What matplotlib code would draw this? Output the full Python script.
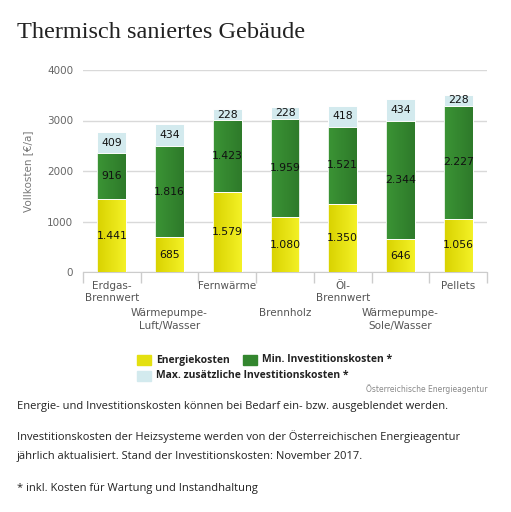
import matplotlib
matplotlib.use("Agg")
import matplotlib.pyplot as plt
import numpy as np
from matplotlib.patches import Rectangle
from matplotlib.colors import LinearSegmentedColormap

categories = ["Erdgas-\nBrennwert", "Wärmepumpe-\nLuft/Wasser", "Fernwärme", "Brennholz",
              "Öl-\nBrennwert", "Wärmepumpe-\nSole/Wasser", "Pellets"]
energiekosten = [1441, 685, 1579, 1080, 1350, 646, 1056]
min_invest = [916, 1816, 1423, 1959, 1521, 2344, 2227]
max_invest = [409, 434, 228, 228, 418, 434, 228]
series_names = ["Energiekosten", "Min. Investitionskosten *", "Max. zusätzliche Investitionskosten *"]
yticks = [0, 1000, 2000, 3000, 4000]

c_yellow = ("#d8d200", "#f4f126")
c_green = ("#3b9435", "#2e7a2a")
c_blue = ("#d3eaee", "#d3eaee")
legend_cols = ["#e4e010", "#33862e", "#d3eaee"]

def fmt(v):
    return "{:,}".format(v).replace(",", ".")

def grad_bars(ax, bars, cols):
    cmap = LinearSegmentedColormap.from_list("g", list(cols))
    grad = np.linspace(0, 1, 64).reshape(1, -1)
    for b in bars:
        x0, y0 = b.get_x(), b.get_y()
        im = ax.imshow(grad, cmap=cmap, extent=[x0, x0 + b.get_width(), y0, y0 + b.get_height()],
                       aspect="auto", zorder=3, interpolation="bilinear")
        im.set_clip_path(b)
        b.set_facecolor("none")

fig = plt.figure(figsize=(5.11, 5.12), dpi=100)
fig.patch.set_facecolor("white")

fig.text(17 / 511, 1 - 33 / 512, "Thermisch saniertes Gebäude", family="Liberation Serif",
         fontsize=17.5, color="#222222", va="center", ha="left")

ax = fig.add_axes([83 / 511, 1 - 272 / 512, 404 / 511, 202 / 512])
x = np.arange(len(categories))
w = 0.5
e = np.array(energiekosten)
m = np.array(min_invest)
mx = np.array(max_invest)
b1 = ax.bar(x, e, w, color=c_yellow[1], edgecolor="white", linewidth=0.6, zorder=3)
b2 = ax.bar(x, m, w, bottom=e, color=c_green[1], edgecolor="white", linewidth=0.6, zorder=3)
b3 = ax.bar(x, mx, w, bottom=e + m, color=c_blue[1], edgecolor="white", linewidth=0.6, zorder=3)
grad_bars(ax, b1, c_yellow)
grad_bars(ax, b2, c_green)
for bars in (b1, b2, b3):
    for b in bars:
        ax.add_patch(Rectangle((b.get_x(), b.get_y()), b.get_width(), b.get_height(),
                               fill=False, edgecolor="white", linewidth=0.6, zorder=3.5))

for i in range(len(x)):
    ax.text(x[i], e[i] / 2, fmt(e[i]), ha="center", va="center", fontsize=7.8, color="#111111", zorder=4)
    ax.text(x[i], e[i] + m[i] / 2, fmt(m[i]), ha="center", va="center", fontsize=7.8, color="#111111", zorder=4)
    ax.text(x[i], e[i] + m[i] + mx[i] / 2, fmt(mx[i]), ha="center", va="center", fontsize=7.8, color="#111111", zorder=4)

ax.set_xlim(-0.5, len(categories) - 0.5)
ax.set_ylim(0, 4000)
ax.set_yticks(yticks)
ax.set_yticklabels([str(t) for t in yticks], fontsize=7.5, color="#666666")
ax.tick_params(axis="y", length=0, pad=7)
ax.yaxis.grid(True, color="#d9d9d9", linewidth=1, zorder=0)
ax.set_axisbelow(True)
ax.set_ylabel("Vollkosten [€/a]", fontsize=7.5, color="#777777", labelpad=10)

ax.set_xticks([])
ax.set_xticks(np.arange(-0.5, len(categories)), minor=True)
ax.tick_params(axis="x", which="minor", length=8, color="#cccccc", width=1)
ax.set_xticklabels([], minor=True)
for i, c in enumerate(categories):
    yoff = -0.045 if i % 2 == 0 else -0.18
    ax.text(x[i], yoff, c, transform=ax.get_xaxis_transform(), ha="center", va="top",
            fontsize=7.5, color="#555555", linespacing=1.3)

for s in ["top", "right", "left"]:
    ax.spines[s].set_visible(False)
ax.spines["bottom"].set_color("#cccccc")

# legend
leg_items = [(137, 360, legend_cols[0], series_names[0]), (243, 360, legend_cols[1], series_names[1]),
             (137, 376, legend_cols[2], series_names[2])]
for px, py, col, name in leg_items:
    fig.patches.append(Rectangle((px / 511, 1 - (py + 5) / 512), 14 / 511, 10 / 512,
                                 transform=fig.transFigure, color=col))
    fig.text((px + 19) / 511, 1 - py / 512, name, fontsize=7.5, fontweight="bold",
             color="#222222", va="center", ha="left", family="Open Sans")

fig.text(487 / 511, 1 - 389 / 512, "Österreichische Energieagentur", fontsize=5.5,
         color="#888888", ha="right", va="center")

body = [(406, "Energie- und Investitionskosten können bei Bedarf ein- bzw. ausgeblendet werden."),
        (437, "Investitionskosten der Heizsysteme werden von der Österreichischen Energieagentur"),
        (457, "jährlich aktualisiert. Stand der Investitionskosten: November 2017."),
        (488, "* inkl. Kosten für Wartung und Instandhaltung")]
for py, t in body:
    fig.text(17 / 511, 1 - py / 512, t, fontsize=8.0, color="#222222", va="center", ha="left",
             family="Open Sans")

fig.savefig("out.png", dpi=100, facecolor="white")
